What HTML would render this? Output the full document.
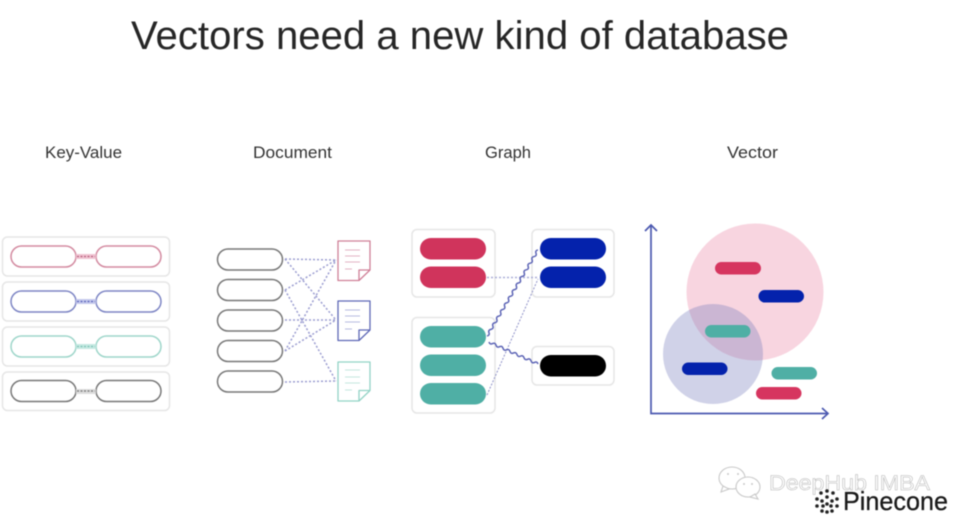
<!DOCTYPE html>
<html><head><meta charset="utf-8"><style>
html,body{margin:0;padding:0;background:#fff;width:960px;height:527px;overflow:hidden}
svg{display:block;filter:blur(.5px)}
text{font-family:"Liberation Sans",sans-serif}
</style></head><body>
<svg width="960" height="527" viewBox="0 0 960 527" xmlns="http://www.w3.org/2000/svg">
<text x="131" y="49" font-size="40" fill="#262626" textLength="658" lengthAdjust="spacingAndGlyphs">Vectors need a new kind of database</text>
<g font-size="16.500" fill="#333">
<text x="45" y="158" textLength="77" lengthAdjust="spacingAndGlyphs">Key-Value</text>
<text x="253" y="158" textLength="79" lengthAdjust="spacingAndGlyphs">Document</text>
<text x="485" y="158" textLength="46" lengthAdjust="spacingAndGlyphs">Graph</text>
<text x="727" y="158" textLength="51" lengthAdjust="spacingAndGlyphs">Vector</text>
</g>

<!-- Key-Value -->
<g fill="#fff" stroke="#e6e6e6" stroke-width="1.500">
<rect x="2.500" y="237" width="167" height="39" rx="5"/>
<rect x="2.500" y="282" width="167" height="39" rx="5"/>
<rect x="2.500" y="327" width="167" height="39" rx="5"/>
<rect x="2.500" y="372" width="167" height="38.500" rx="5"/>
</g>
<g fill="none" stroke-width="1.500">
<g stroke="#d38aa0"><rect x="11" y="246" width="65" height="21" rx="10.500"/><rect x="96" y="246" width="65" height="21" rx="10.500"/></g>
<g stroke="#7d85c4"><rect x="11" y="291" width="65" height="21" rx="10.500"/><rect x="96" y="291" width="65" height="21" rx="10.500"/></g>
<g stroke="#9ed6ca"><rect x="11" y="336" width="65" height="21" rx="10.500"/><rect x="96" y="336" width="65" height="21" rx="10.500"/></g>
<g stroke="#777"><rect x="11" y="380.500" width="65" height="21" rx="10.500"/><rect x="96" y="380.500" width="65" height="21" rx="10.500"/></g>
</g>
<rect x="76" y="254" width="20" height="5" fill="#f0c4d2"/>
<rect x="76" y="299" width="20" height="5" fill="#c5c9ec"/>
<rect x="76" y="344" width="20" height="5" fill="#c6e9e2"/>
<rect x="76" y="389" width="20" height="5" fill="#dcdcdc"/>
<g stroke-width="1.300" stroke-dasharray="2 1.500">
<line x1="77" y1="256.500" x2="95" y2="256.500" stroke="#b8607f"/>
<line x1="77" y1="301.500" x2="95" y2="301.500" stroke="#5a63bb"/>
<line x1="77" y1="346.500" x2="95" y2="346.500" stroke="#7cc4b6"/>
<line x1="77" y1="391" x2="95" y2="391" stroke="#777"/>
</g>

<!-- Document -->
<g fill="none" stroke="#9a9cd0" stroke-width="1.500" stroke-dasharray="2 2">
<line x1="285" y1="259" x2="336" y2="260"/>
<line x1="285" y1="259" x2="336" y2="320"/>
<line x1="285" y1="290" x2="336" y2="260"/>
<line x1="285" y1="290" x2="336" y2="381"/>
<line x1="285" y1="320" x2="336" y2="320"/>
<line x1="285" y1="351" x2="336" y2="260"/>
<line x1="285" y1="351" x2="336" y2="320"/>
<line x1="285" y1="382" x2="336" y2="381"/>
</g>
<g fill="#fff" stroke="#777" stroke-width="1.500">
<rect x="217.500" y="249" width="65" height="21" rx="10.500"/>
<rect x="217.500" y="279.500" width="65" height="21" rx="10.500"/>
<rect x="217.500" y="310" width="65" height="21" rx="10.500"/>
<rect x="217.500" y="340.500" width="65" height="21" rx="10.500"/>
<rect x="217.500" y="371" width="65" height="21" rx="10.500"/>
</g>
<g fill="#fff" stroke-width="1.300" stroke-linejoin="round">
<g stroke="#cf7f97"><path d="M338 241H370V270L359 280.500H338Z"/><path d="M370 270H359V280.500" fill="none"/></g>
<g stroke="#5e68b6"><path d="M338 301H370V330L359 340.500H338Z"/><path d="M370 330H359V340.500" fill="none"/></g>
<g stroke="#93d3c6"><path d="M338 362H370V390.500L359 401H338Z"/><path d="M370 390.500H359V401" fill="none"/></g>
</g>
<g stroke-width="1" fill="none">
<path d="M345 250H360M345 256H360M345 262H360M345 269H352" stroke="#e3b4c3"/>
<path d="M345 310H360M345 316H360M345 322H360M345 329H352" stroke="#b6bae0"/>
<path d="M345 370H360M345 377H360M345 383H360M345 390H352" stroke="#c3e6df"/>
</g>

<!-- Graph -->
<g fill="#fff" stroke="#e6e6e6" stroke-width="1.500">
<rect x="412" y="229.500" width="83" height="67.500" rx="5"/>
<rect x="412" y="317.500" width="83" height="95.500" rx="5"/>
<rect x="532" y="229.500" width="82" height="67.500" rx="5"/>
<rect x="532" y="346.500" width="82" height="38.500" rx="5"/>
</g>
<g fill="#d0345c">
<rect x="420" y="238" width="66" height="21.500" rx="10.750"/>
<rect x="420" y="266.500" width="66" height="21.500" rx="10.750"/>
</g>
<g fill="#4fafa5">
<rect x="420" y="326" width="66" height="21.500" rx="10.750"/>
<rect x="420" y="354.500" width="66" height="21.500" rx="10.750"/>
<rect x="420" y="383" width="66" height="21.500" rx="10.750"/>
</g>
<g fill="#0422ac">
<rect x="540" y="238" width="66" height="21.500" rx="10.750"/>
<rect x="540" y="266.500" width="66" height="21.500" rx="10.750"/>
</g>
<rect x="540" y="355" width="66" height="21.500" rx="10.750" fill="#000"/>
<line x1="487" y1="277.500" x2="539" y2="277.500" stroke="#a9abd6" stroke-width="1.500" stroke-dasharray="2 2"/>
<line x1="487" y1="395" x2="538" y2="279" stroke="#8f92c8" stroke-width="1" stroke-dasharray="2 1.500"/>
<g fill="none" stroke="#5b63b5" stroke-width="1.500">
<path d="M487 336q2.880-.55 1.960-3.310t1.960-3.310t1.960-3.310t1.960-3.310t1.960-3.310t1.960-3.310t1.960-3.310t1.960-3.310t1.960-3.310t1.960-3.310t1.960-3.310t1.960-3.310t1.960-3.310t1.960-3.310t1.960-3.310t1.960-3.310t1.960-3.310t1.960-3.310t1.960-3.310t1.960-3.310t1.960-3.310t1.960-3.310t1.960-3.310t1.960-3.310t1.960-3.310t1.960-3.310"/>
<path d="M489 342q.85 2.800 3.500 1.570t3.500 1.570t3.500 1.570t3.500 1.570t3.500 1.570t3.500 1.570t3.500 1.570t3.500 1.570t3.500 1.570t3.500 1.570t3.500 1.570t3.500 1.570t3.500 1.570t3.500 1.570"/>
</g>

<!-- Vector -->
<circle cx="755" cy="292" r="68.500" fill="#f8d5e0"/>
<circle cx="713" cy="354" r="50" fill="#6f76b8" fill-opacity=".33"/>
<rect x="715" y="262" width="46" height="12.500" rx="6.250" fill="#d6355f"/>
<rect x="758.500" y="290" width="45.500" height="12.500" rx="6.250" fill="#0422ac"/>
<rect x="705" y="325" width="45.500" height="12.500" rx="6.250" fill="#4fafa5"/>
<rect x="682" y="362.500" width="45.500" height="12.500" rx="6.250" fill="#0422ac"/>
<rect x="771.500" y="367" width="45.500" height="12.500" rx="6.250" fill="#4fafa5"/>
<rect x="756" y="387" width="45.500" height="12.500" rx="6.250" fill="#d6355f"/>
<g fill="none" stroke="#4c59b0" stroke-width="1.700">
<path d="M651 226V413.500H827"/>
<path d="M645 231L651 225L657 231"/>
<path d="M822 408L828 413.500L822 419"/>
</g>

<!-- Watermark -->
<g fill="#fff" stroke="#c9c9c9" stroke-width="1.100">
<ellipse cx="732" cy="478" rx="13" ry="11"/>
<path d="M723 486L721 492L729 489Z"/>
<ellipse cx="748" cy="487" rx="12" ry="10"/>
<path d="M755 494L758 499L750 497Z"/>
</g>
<g fill="#c9c9c9"><circle cx="728" cy="474" r="1"/><circle cx="738" cy="474" r="1"/><circle cx="744" cy="484" r="1"/><circle cx="752" cy="484" r="1"/></g>
<text x="769" y="490" font-size="21" fill="#fff" stroke="#b4b4b4" stroke-width=".5" textLength="161" lengthAdjust="spacingAndGlyphs">DeepHub IMBA</text>
<g fill="#222">
<circle cx="827" cy="491" r="1.800"/><circle cx="821" cy="493" r="1.800"/><circle cx="833" cy="493" r="1.800"/>
<circle cx="817" cy="499" r="1.800"/><circle cx="837" cy="499" r="1.800"/><circle cx="817" cy="506" r="1.800"/>
<circle cx="837" cy="506" r="1.800"/><circle cx="822" cy="511" r="1.800"/><circle cx="832" cy="511" r="1.800"/>
<circle cx="827" cy="512" r="1.800"/><circle cx="827" cy="497" r="1.800"/><circle cx="822" cy="501" r="1.800"/>
<circle cx="832" cy="501" r="1.800"/><circle cx="823" cy="506" r="1.800"/><circle cx="831" cy="506" r="1.800"/><circle cx="827" cy="504" r="1.800"/>
</g>
<text x="843" y="510" font-size="26" fill="#1a1a1a" stroke="#1a1a1a" stroke-width=".3" textLength="105" lengthAdjust="spacingAndGlyphs">Pinecone</text>
</svg>
</body></html>
